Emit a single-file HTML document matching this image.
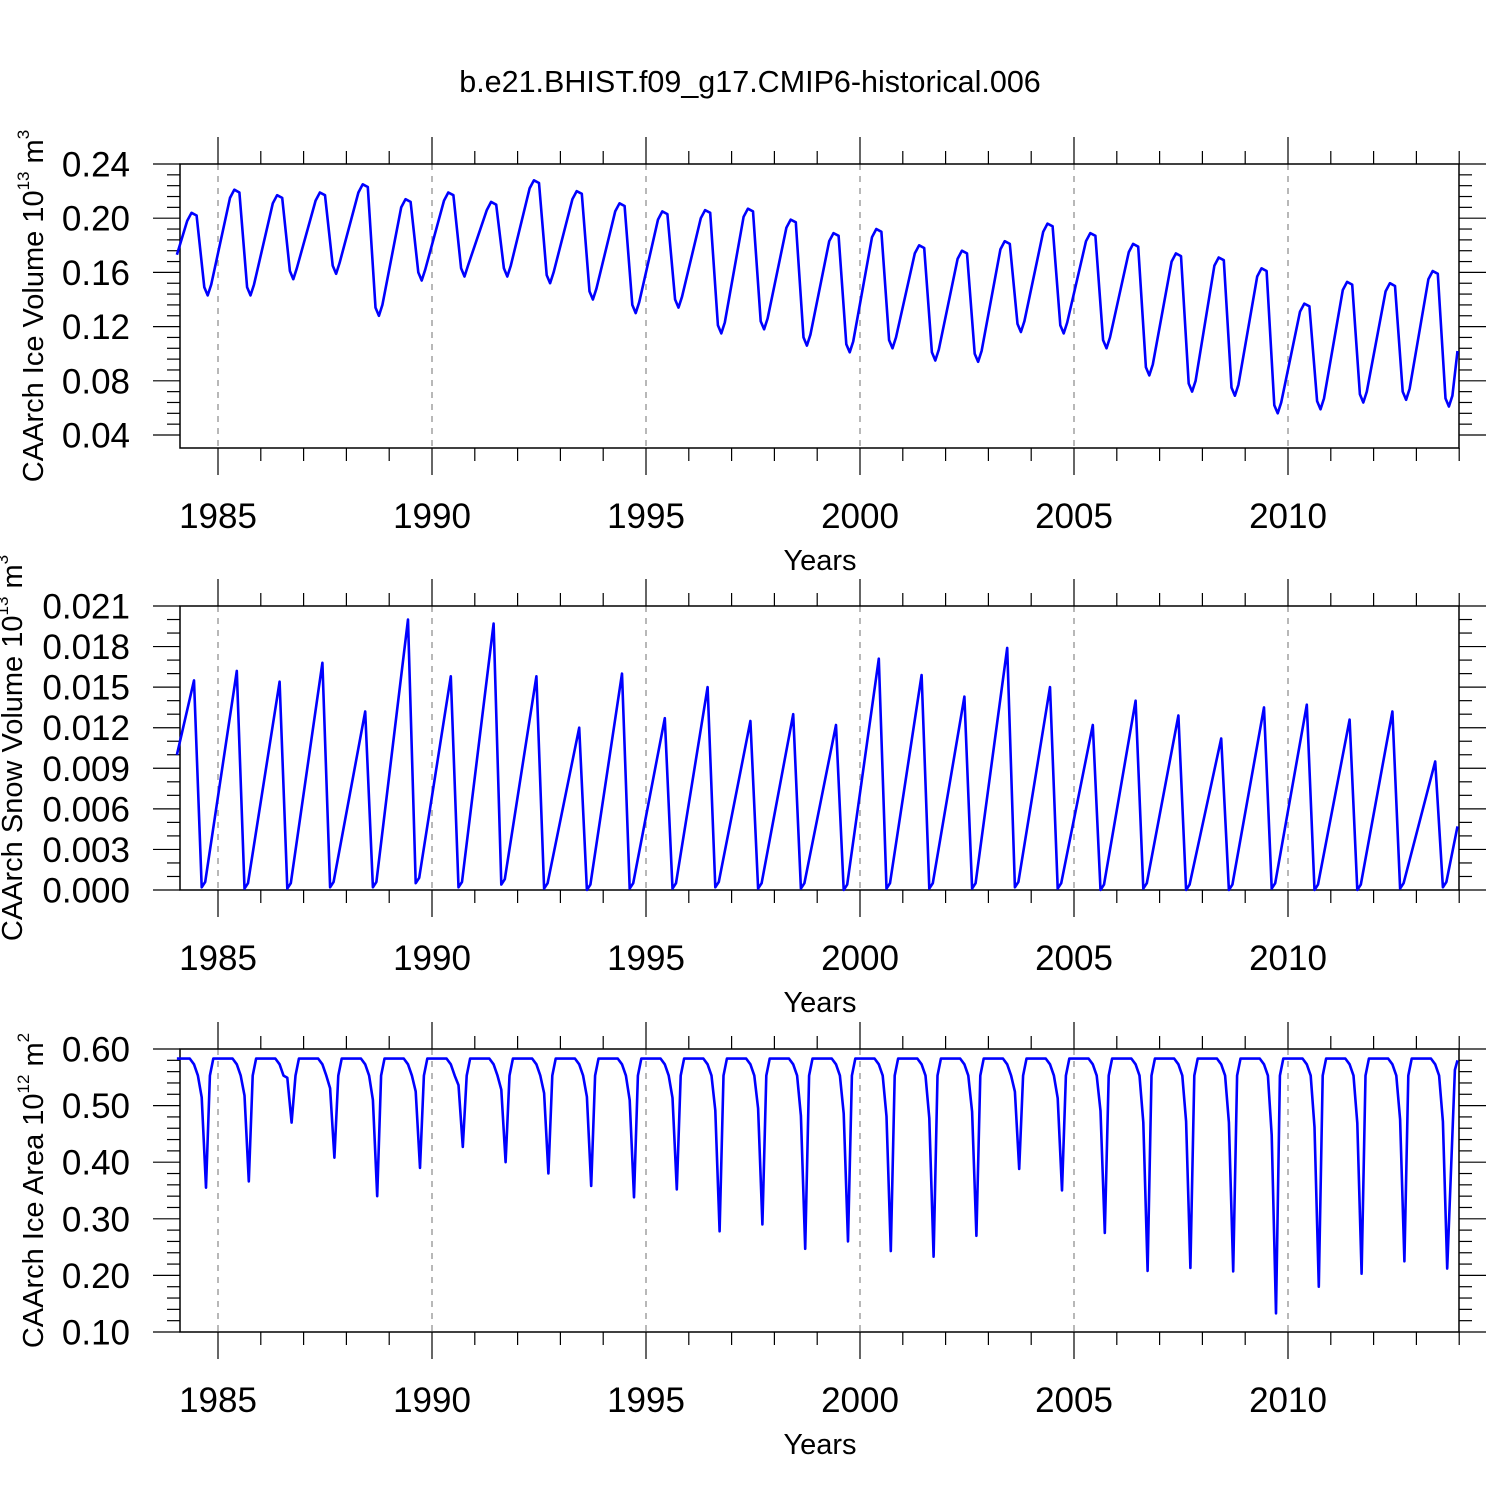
<!DOCTYPE html>
<html><head><meta charset="utf-8"><style>body{margin:0;background:#fff}svg{display:block}text{font-family:"Liberation Sans",sans-serif;fill:#000}</style></head>
<body>
<svg id="chart" width="1500" height="1500" xmlns="http://www.w3.org/2000/svg">
<text x="750" y="92" font-size="30.5" text-anchor="middle">b.e21.BHIST.f09_g17.CMIP6-historical.006</text>
</svg>
<script>
const years = [1984,1985,1986,1987,1988,1989,1990,1991,1992,1993,1994,1995,1996,1997,1998,1999,2000,2001,2002,2003,2004,2005,2006,2007,2008,2009,2010,2011,2012,2013];
const iceVolMax = [0.204,0.221,0.217,0.219,0.225,0.214,0.219,0.212,0.228,0.220,0.211,0.205,0.206,0.207,0.199,0.189,0.192,0.180,0.176,0.183,0.196,0.189,0.181,0.174,0.171,0.163,0.137,0.153,0.152,0.161];
const iceVolMin = [0.143,0.143,0.155,0.159,0.128,0.154,0.157,0.157,0.152,0.140,0.130,0.134,0.115,0.118,0.106,0.101,0.104,0.095,0.094,0.116,0.115,0.104,0.084,0.072,0.069,0.056,0.059,0.064,0.066,0.061];
const snowMax = [0.0155,0.0162,0.0154,0.0168,0.0132,0.0200,0.0158,0.0197,0.0158,0.0120,0.0160,0.0127,0.0150,0.0125,0.0130,0.0122,0.0171,0.0159,0.0143,0.0179,0.0150,0.0122,0.0140,0.0129,0.0112,0.0135,0.0137,0.0126,0.0132,0.0095];
const snowMin = [0.0002,0.0001,0.0001,0.0002,0.0002,0.0005,0.0002,0.0004,0.0001,0.0000,0.0001,0.0001,0.0002,0.0001,0.0001,0.0000,0.0001,0.0001,0.0001,0.0002,0.0001,0.0000,0.0001,0.0000,0.0000,0.0001,0.0000,0.0000,0.0001,0.0002];
const areaMin = [0.355,0.366,0.470,0.408,0.340,0.390,0.427,0.400,0.380,0.358,0.338,0.352,0.278,0.290,0.247,0.260,0.243,0.233,0.270,0.388,0.350,0.275,0.208,0.213,0.207,0.133,0.180,0.203,0.225,0.212];
const areaMax = 0.583;
const iceVolStart = 0.173, snowStart = 0.0100, areaEnd = 0.580;
const xTicks = [1985,1990,1995,2000,2005,2010];

const svg = document.getElementById('chart');
const NS = 'http://www.w3.org/2000/svg';
function mk(tag, attrs, parent){const e=document.createElementNS(NS,tag);for(const k in attrs)e.setAttribute(k,attrs[k]);(parent||svg).appendChild(e);return e;}
const X0=180, X1=1459;
function xs(t){return 218+(t-1985)*42.8;}

function panel(p){
  const g = mk('g',{});
  
  
  const ys = v => p.yb + (v-p.vmin)/(p.vmax-p.vmin)*(p.yt-p.yb);
  xTicks.forEach(t=>{const l=mk('line',{x1:xs(t),x2:xs(t),y1:p.top,y2:p.bot,stroke:'#888','stroke-width':1.2,'stroke-dasharray':'6,6'},g);
    });
  for(let y=1984;y<=2014;y++){const x=xs(y);if(x<X0-1||x>X1+1)continue;const maj=y%5==0;const L=maj?27:13;
    mk('line',{x1:x,x2:x,y1:p.top,y2:p.top-L,stroke:'#000','stroke-width':1.2},g);
    mk('line',{x1:x,x2:x,y1:p.bot,y2:p.bot+L,stroke:'#000','stroke-width':1.2},g);}
  const nMin=Math.round((p.vmax-p.vmin)/p.minor);
  for(let i=0;i<=nMin+4;i++){const v=p.vmin+i*p.minor;const y=ys(v);if(y<p.top-0.5||y>p.bot+0.5)continue;
    const maj=Math.abs(Math.round((v-p.vmin)/p.major)*p.major-(v-p.vmin))<1e-9;const L=maj?27:13;
    mk('line',{x1:X0,x2:X0-L,y1:y,y2:y,stroke:'#000','stroke-width':1.2},g);
    mk('line',{x1:X1,x2:X1+L,y1:y,y2:y,stroke:'#000','stroke-width':1.2},g);
    if(maj){const t=mk('text',{x:130,y:y+12.5,'font-size':35,'text-anchor':'end'},g);t.textContent=v.toFixed(p.dec);
      }}
  xTicks.forEach(tk=>{const t=mk('text',{x:xs(tk),y:p.bot+80,'font-size':35,'text-anchor':'middle'},g);t.textContent=tk;
    });
  const xt=mk('text',{x:820,y:p.bot+122,'font-size':29,'text-anchor':'middle'},g);xt.textContent='Years';
  
  const yt=mk('text',{transform:`translate(${p.ytx},${(p.top+p.bot)/2}) rotate(-90)`,'font-size':29,'text-anchor':'middle'},g);
  
  yt.innerHTML=p.label+' 10<tspan font-size="17" dy="-14">'+p.exp1+'</tspan><tspan dy="14"> m</tspan><tspan font-size="17" dy="-14">'+p.exp2+'</tspan>';
  const fr=mk('rect',{x:X0,y:p.top,width:X1-X0,height:p.bot-p.top,fill:'none',stroke:'#000','stroke-width':1.5},g);
  
  const pts=p.points().map(([t,v])=>xs(t).toFixed(1)+','+ys(v).toFixed(1)).join(' ');
  const pl=mk('polyline',{points:pts,fill:'none',stroke:'#0000ff','stroke-width':2.6,'stroke-linejoin':'round'},g);
  
}

panel({name:'ice-volume-panel',series:'ice-volume-line',top:164,bot:448,yt:164,yb:435,vmax:0.24,vmin:0.04,major:0.04,minor:0.008,dec:2,ytx:43,label:'CAArch Ice Volume',exp1:'13',exp2:'3',
  points(){const a=[[1984.04,iceVolStart]];years.forEach((y,i)=>{const M=iceVolMax[i],m=iceVolMin[i];
    a.push([y+0.28,M-0.006]);a.push([y+0.38,M]);a.push([y+0.5,M-0.002]);a.push([y+0.68,m+0.006]);a.push([y+0.76,m]);a.push([y+0.84,m+0.008]);});
    a.push([2013.96,0.102]);return a;}});
panel({name:'snow-volume-panel',series:'snow-volume-line',top:606,bot:890,yt:606,yb:890,vmax:0.021,vmin:0,major:0.003,minor:0.001,dec:3,ytx:22,label:'CAArch Snow Volume',exp1:'13',exp2:'3',
  points(){const a=[[1984.04,snowStart]];years.forEach((y,i)=>{a.push([y+0.44,snowMax[i]]);a.push([y+0.62,snowMin[i]]);a.push([y+0.7,snowMin[i]+0.0004]);});a.push([2013.96,0.0047]);return a;}});
panel({name:'ice-area-panel',series:'ice-area-line',top:1049,bot:1332,yt:1049,yb:1332,vmax:0.60,vmin:0.10,major:0.1,minor:0.02,dec:2,ytx:43,label:'CAArch Ice Area',exp1:'12',exp2:'2',
  points(){const a=[[1984.04,areaMax]];years.forEach((y,i)=>{const m=areaMin[i];a.push([y+0.34,areaMax]);a.push([y+0.44,areaMax-0.01]);a.push([y+0.53,areaMax-0.03]);a.push([y+0.62,areaMax-0.3*(areaMax-m)]);a.push([y+0.72,m]);
    if(i<years.length-1){a.push([y+0.81,areaMax-0.03]);a.push([y+0.89,areaMax]);}else{a.push([y+0.9,areaMax-0.02]);a.push([2013.96,areaEnd]);}});return a;}});
</script>
</body></html>
